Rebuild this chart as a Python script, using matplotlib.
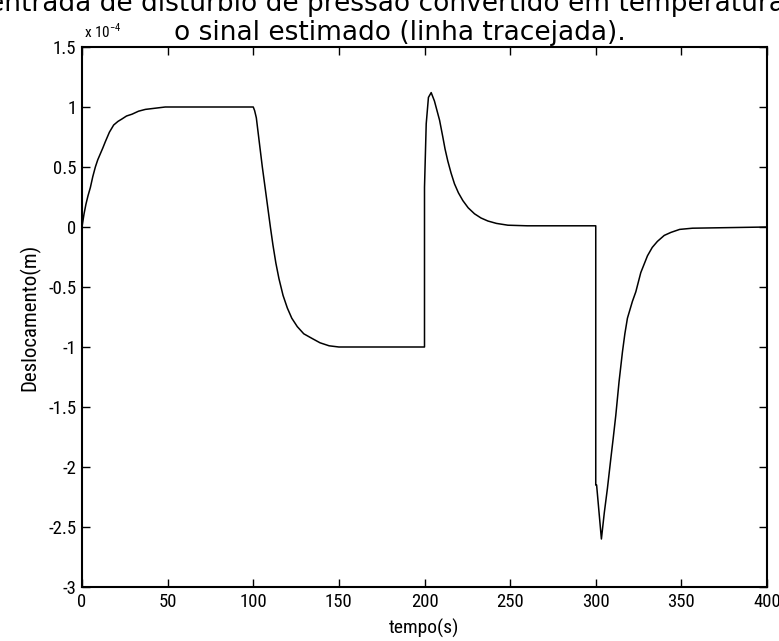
import matplotlib
matplotlib.use("Agg")
import matplotlib.pyplot as plt
from matplotlib import font_manager

# --- data (displacement in units of 1e-4 m) ---
seg1_t = [0, 1.2, 2.3, 3.5, 4.9, 6.3, 7.8, 9.2, 10.7, 12.2, 13.6, 16, 18.5, 21, 23.3, 26, 29.2, 33, 37, 42.8, 48.6, 100]
seg1_v = [0, 0.11, 0.19, 0.26, 0.33, 0.42, 0.50, 0.56, 0.61, 0.66, 0.71, 0.79, 0.85, 0.88, 0.90, 0.925, 0.94, 0.965, 0.98, 0.99, 1.0, 1.0]

seg2_t = [100.8, 101.8, 103.5, 105.3, 107, 108.5, 110, 111.5, 113.2, 115, 117.4, 119.9, 122.5, 125.7, 129.5, 134.5, 139, 144.3, 150, 200]
seg2_v = [0.97, 0.91, 0.71, 0.50, 0.32, 0.16, 0.0, -0.15, -0.30, -0.43, -0.57, -0.675, -0.76, -0.83, -0.89, -0.93, -0.965, -0.99, -1.0, -1.0]

seg3_t = [200, 200, 201, 202.3, 203.9, 205.8, 207.3, 208.8, 210.7, 212, 213.6, 215.5, 217.5, 219.8, 222.4, 225.5, 229.2, 233, 237, 242, 248.7, 260, 274, 300]
seg3_v = [0.33, 0.33, 0.86, 1.08, 1.12, 1.05, 0.97, 0.89, 0.75, 0.65, 0.55, 0.45, 0.36, 0.285, 0.22, 0.16, 0.11, 0.075, 0.05, 0.03, 0.015, 0.01, 0.01, 0.01]

seg4_t = [300, 300, 300.5, 303.3, 305, 306.8, 308.8, 310.2, 311.7, 313.6, 315.6, 317, 318.5, 321.4, 323.4, 326.3, 330.2, 333, 336, 340, 343.9, 349, 356.5, 400]
seg4_v = [-1.07, -2.15, -2.15, -2.60, -2.38, -2.18, -1.93, -1.76, -1.57, -1.29, -1.04, -0.89, -0.76, -0.62, -0.54, -0.38, -0.24, -0.17, -0.12, -0.07, -0.045, -0.02, -0.01, 0.0]

t = seg1_t + seg2_t + [200] + seg3_t + seg4_t
v = seg1_v + seg2_v + [-1.0] + seg3_v + seg4_v

xticks = [0, 50, 100, 150, 200, 250, 300, 350, 400]
yticks = [-3, -2.5, -2, -1.5, -1, -0.5, 0, 0.5, 1, 1.5]
ytick_labels = ["-3", "-2.5", "-2", "-1.5", "-1", "-0.5", "0", "0.5", "1", "1.5"]

title_line1 = "entrada de distúrbio de pressão convertido em temperatura e"
title_line2 = "o sinal estimado (linha tracejada)."

names = {f.name for f in font_manager.fontManager.ttflist}
narrow = "DejaVu Sans"
for cand in ["Liberation Sans Narrow", "Roboto Condensed", "Open Sans Condensed", "DejaVu Sans Condensed"]:
    if cand in names:
        narrow = cand
        break
nkw = dict(fontfamily=narrow, fontstretch="condensed")

fig = plt.figure(figsize=(7.79, 6.41), dpi=100)
ax = fig.add_axes([82/779, 54/641, (767-82)/779, (587-47)/641])
ax.plot(t, v, color="black", lw=1.1)
ax.set_xlim(0, 400)
ax.set_ylim(-3, 1.5)
ax.set_xticks(xticks)
ax.set_xticklabels([str(x) for x in xticks], fontsize=13.5, **nkw)
ax.set_yticks(yticks)
ax.set_yticklabels(ytick_labels, fontsize=13.5, **nkw)
ax.tick_params(direction="in", length=6, width=1, top=True, right=True, pad=4)
for s in ax.spines.values():
    s.set_linewidth(1.5)
ax.set_xlabel("tempo(s)", fontsize=14, labelpad=6, **nkw)
ax.set_ylabel("Deslocamento(m)", fontsize=15, labelpad=6, **nkw)

fig.text(84/779, 1 - 38/641, r"x 10$^{\mathregular{-4}}$", fontsize=11, ha="left", va="baseline", **nkw)
fig.text(-12/779, 1 - 11/641, title_line1, fontfamily="DejaVu Sans", fontsize=19, ha="left", va="baseline")
fig.text(400/779, 1 - 40/641, title_line2, fontfamily="DejaVu Sans", fontsize=19, ha="center", va="baseline")

fig.savefig("out.png", dpi=100)
